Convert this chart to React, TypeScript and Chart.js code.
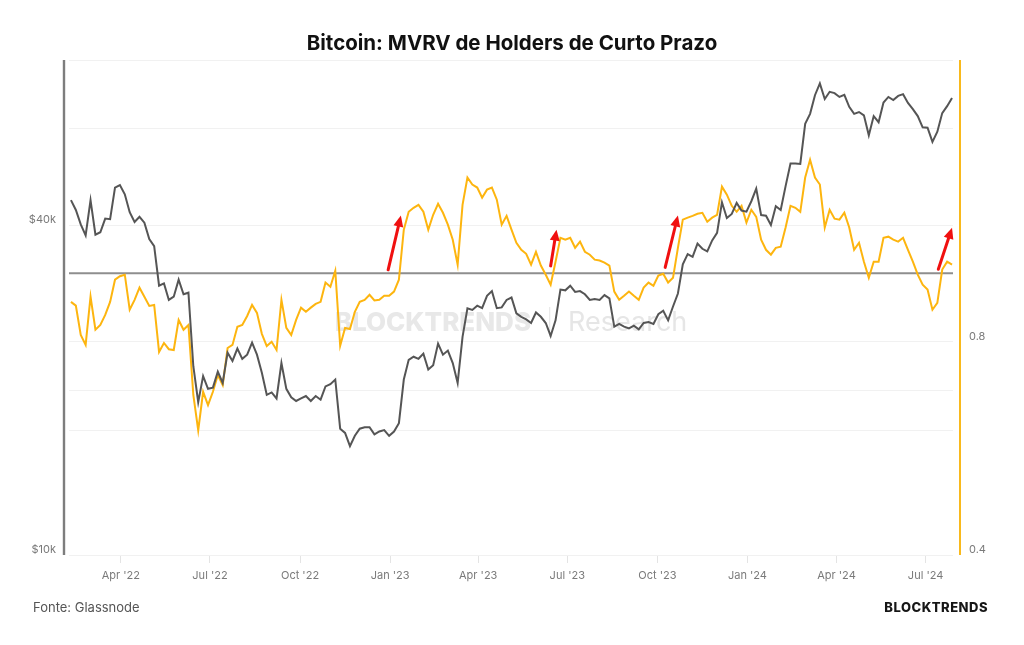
import React, { useEffect, useRef } from 'react';
import { Chart, registerables } from 'chart.js';

Chart.register(...registerables);

// Series sampled every 5 days, starting on SERIES_START
const SERIES_START = '2022-02-09';
const SERIES_STEP_DAYS = 5;

// Bitcoin price (USD), left log axis
const BTC_PRICE_USD = [
  44400, 42600, 40100, 38300, 44400, 38400, 38800, 41100, 41000, 46800,
  47300, 45500, 42200, 40500, 41400, 40400, 37700, 36600, 31000, 31300,
  29200, 29600, 31800, 29900, 30100, 22100, 19000, 21200, 20100, 20200,
  21600, 20600, 23400, 22600, 23800, 22800, 23200, 24400, 23200, 21500,
  19600, 19800, 19300, 22400, 20100, 19400, 19100, 19300, 19500, 19100,
  19500, 19200, 20300, 20500, 20900, 17000, 16700, 15800, 16500, 17000,
  17100, 17100, 16600, 16800, 16900, 16500, 16800, 17400, 20900, 22700,
  23000, 22800, 23300, 21800, 22200, 24300, 23200, 23600, 22400, 20600,
  25000, 28200, 28000, 28500, 28200, 29700, 30300, 28200, 28300, 29200,
  29500, 27600, 27200, 26900, 26500, 27700, 27200, 26500, 25100, 26800,
  30500, 30400, 31000, 30200, 30300, 29900, 29200, 29300, 29200, 29800,
  29400, 26100, 26400, 26100, 25900, 26200, 25800, 26500, 26600, 26400,
  27500, 27900, 26800, 28400, 30000, 33900, 35400, 35000, 37000, 36200,
  35800, 37500, 38700, 44000, 41200, 41900, 43900, 42500, 42300, 44200,
  46600, 41700, 41600, 40000, 43300, 42600, 47100, 51800, 51800, 51700,
  61200, 63800, 69000, 72500, 67900, 70000, 69600, 68500, 69100, 65700,
  63800, 64300, 63400, 58300, 63200, 61600, 66900, 68500, 67600, 68800,
  69300, 66800, 65100, 63200, 60300, 60200, 56700, 59200, 64000, 65900,
  68200,
];

// Short-term holder MVRV, right log axis
const STH_MVRV = [
  0.911, 0.900, 0.818, 0.792, 0.927, 0.832, 0.845, 0.873, 0.911, 0.979,
  0.990, 0.995, 0.888, 0.917, 0.954, 0.926, 0.899, 0.902, 0.774, 0.797,
  0.781, 0.779, 0.859, 0.832, 0.845, 0.673, 0.600, 0.680, 0.651, 0.680,
  0.718, 0.695, 0.784, 0.792, 0.840, 0.845, 0.870, 0.902, 0.879, 0.821,
  0.789, 0.800, 0.779, 0.917, 0.837, 0.818, 0.859, 0.894, 0.882, 0.894,
  0.905, 0.911, 0.970, 0.957, 1.008, 0.790, 0.837, 0.834, 0.882, 0.911,
  0.917, 0.932, 0.915, 0.917, 0.929, 0.929, 0.942, 0.979, 1.152, 1.221,
  1.237, 1.249, 1.221, 1.152, 1.209, 1.253, 1.217, 1.171, 1.115, 1.028,
  1.249, 1.365, 1.334, 1.321, 1.278, 1.312, 1.321, 1.270, 1.171, 1.205,
  1.152, 1.104, 1.079, 1.065, 1.028, 1.072, 1.025, 0.995, 0.963, 1.038,
  1.122, 1.115, 1.122, 1.086, 1.108, 1.072, 1.062, 1.045, 1.042, 1.035,
  1.025, 0.942, 0.917, 0.929, 0.942, 0.929, 0.917, 0.954, 0.970, 0.960,
  0.992, 0.998, 0.970, 0.985, 1.086, 1.190, 1.198, 1.205, 1.213, 1.217,
  1.182, 1.198, 1.209, 1.325, 1.291, 1.245, 1.221, 1.245, 1.179, 1.229,
  1.201, 1.115, 1.079, 1.062, 1.086, 1.090, 1.160, 1.245, 1.237, 1.221,
  1.365, 1.446, 1.365, 1.334, 1.160, 1.229, 1.194, 1.190, 1.217, 1.160,
  1.079, 1.104, 1.038, 0.985, 1.038, 1.038, 1.122, 1.126, 1.115, 1.108,
  1.122, 1.079, 1.038, 0.995, 0.963, 0.948, 0.888, 0.908, 1.012, 1.038,
  1.028,
];

const X_RANGE = ['2022-02-07', '2024-07-29'];
const X_TICK_DATES = [
  '2022-04-01', '2022-07-01', '2022-10-01', '2023-01-01', '2023-04-01',
  '2023-07-01', '2023-10-01', '2024-01-01', '2024-04-01', '2024-07-01',
];
const X_TICK_LABELS = [
  "Apr '22", "Jul '22", "Oct '22", "Jan '23", "Apr '23",
  "Jul '23", "Oct '23", "Jan '24", "Apr '24", "Jul '24",
];

const PRICE_RANGE = [10000, 80000];
const PRICE_GRID = [10000, 20000, 40000, 60000, 80000];
const PRICE_LABELS: Record<number, string> = { 10000: '$10k', 40000: '$40k' };

const MVRV_RANGE = [0.4, 2.0];
const MVRV_GRID = [0.4, 0.6, 0.8, 1.6, 2.0];
const MVRV_LABELS: Record<number, string> = { 0.4: '0.4', 0.8: '0.8' };
const MVRV_BREAKEVEN = 1;

// Red arrows: [start date, start MVRV, tip date, tip MVRV]
const ARROWS: [string, number, string, number][] = [
  ['2022-12-30', 1.011, '2023-01-12', 1.206],
  ['2023-06-14', 1.024, '2023-06-20', 1.152],
  ['2023-10-09', 1.019, '2023-10-22', 1.206],
  ['2024-07-14', 1.013, '2024-07-28', 1.159],
];

const TITLE = 'Bitcoin: MVRV de Holders de Curto Prazo';
const SOURCE = 'Fonte: Glassnode';
const BRAND = 'BLOCKTRENDS';

const DAY_MS = 86400000;
const toDay = (iso: string) => Date.parse(iso) / DAY_MS;

const FONT = 'Inter, "Noto Sans", sans-serif';

export default function App() {
  const canvasRef = useRef<HTMLCanvasElement | null>(null);

  useEffect(() => {
    const canvas = canvasRef.current;
    if (!canvas) return;

    const start = toDay(SERIES_START);
    const pricePoints = BTC_PRICE_USD.map((v, i) => ({ x: start + i * SERIES_STEP_DAYS, y: v }));
    const mvrvPoints = STH_MVRV.map((v, i) => ({ x: start + i * SERIES_STEP_DAYS, y: v }));
    const xMin = toDay(X_RANGE[0]);
    const xMax = toDay(X_RANGE[1]);
    const tickDays = X_TICK_DATES.map(toDay);

    const watermark = {
      id: 'watermark',
      beforeDatasetsDraw(chart: any) {
        const { ctx, chartArea } = chart;
        const cx = (chartArea.left + chartArea.right) / 2;
        const cy = 323;
        const boldFont = `800 26px ${FONT}`;
        const lightFont = `400 27px ${FONT}`;
        ctx.save();
        ctx.textBaseline = 'middle';
        ctx.textAlign = 'left';
        ctx.font = boldFont;
        const wa = ctx.measureText(BRAND).width;
        ctx.font = lightFont;
        const wb = ctx.measureText('Research').width;
        const gap = 18;
        const total = wa + gap * 2 + 1 + wb;
        let x = cx - total / 2;
        ctx.fillStyle = '#e8e8e8';
        ctx.font = boldFont;
        ctx.fillText(BRAND, x, cy);
        x += wa + gap;
        ctx.fillRect(x, cy - 16, 1.2, 30);
        x += 1 + gap;
        ctx.fillStyle = '#e6e6e6';
        ctx.font = lightFont;
        ctx.fillText('Research', x, cy);
        ctx.restore();
      },
    };

    const axisLines = {
      id: 'axisLines',
      afterDraw(chart: any) {
        const { ctx, chartArea } = chart;
        ctx.save();
        ctx.lineWidth = 2.4;
        ctx.strokeStyle = '#7d7d7d';
        ctx.beginPath();
        ctx.moveTo(chartArea.left - 5, chartArea.top);
        ctx.lineTo(chartArea.left - 5, chartArea.bottom);
        ctx.stroke();
        ctx.lineWidth = 2;
        ctx.strokeStyle = '#f9b91c';
        ctx.beginPath();
        ctx.moveTo(chartArea.right + 7, chartArea.top);
        ctx.lineTo(chartArea.right + 7, chartArea.bottom);
        ctx.stroke();
        ctx.restore();
      },
    };

    const arrows = {
      id: 'arrows',
      afterDatasetsDraw(chart: any) {
        const { ctx } = chart;
        const xs = chart.scales.x;
        const ys = chart.scales.yMvrv;
        ctx.save();
        ctx.strokeStyle = '#f01010';
        ctx.fillStyle = '#f01010';
        ctx.lineWidth = 3;
        ctx.lineCap = 'round';
        for (const [d0, v0, d1, v1] of ARROWS) {
          const x0 = xs.getPixelForValue(toDay(d0));
          const y0 = ys.getPixelForValue(v0);
          const x1 = xs.getPixelForValue(toDay(d1));
          const y1 = ys.getPixelForValue(v1);
          const ang = Math.atan2(y1 - y0, x1 - x0);
          const headLen = 11;
          const headW = 5;
          const bx = x1 - headLen * Math.cos(ang);
          const by = y1 - headLen * Math.sin(ang);
          ctx.beginPath();
          ctx.moveTo(x0, y0);
          ctx.lineTo(bx, by);
          ctx.stroke();
          ctx.beginPath();
          ctx.moveTo(x1, y1);
          ctx.lineTo(bx + headW * Math.sin(ang), by - headW * Math.cos(ang));
          ctx.lineTo(bx - headW * Math.sin(ang), by + headW * Math.cos(ang));
          ctx.closePath();
          ctx.fill();
        }
        ctx.restore();
      },
    };

    const tickFont = { family: FONT, size: 11 };

    const chart = new Chart(canvas, {
      type: 'line',
      data: {
        datasets: [
          {
            label: 'Preço BTC',
            data: pricePoints,
            yAxisID: 'yPrice',
            borderColor: '#555555',
            borderWidth: 2,
            pointRadius: 0,
            tension: 0,
          },
          {
            label: 'MVRV STH',
            data: mvrvPoints,
            yAxisID: 'yMvrv',
            borderColor: '#fdb50f',
            borderWidth: 2,
            pointRadius: 0,
            tension: 0,
          },
          {
            label: 'MVRV = 1',
            data: [
              { x: xMin, y: MVRV_BREAKEVEN },
              { x: xMax, y: MVRV_BREAKEVEN },
            ],
            yAxisID: 'yMvrv',
            borderColor: '#8e8e8e',
            borderWidth: 2,
            pointRadius: 0,
          },
        ],
      },
      options: {
        animation: false,
        responsive: false,
        devicePixelRatio: 1,
        layout: { padding: { top: 60, left: 0, right: 0, bottom: 0 } },
        plugins: {
          legend: { display: false },
          tooltip: { enabled: false },
          title: { display: false },
        },
        scales: {
          x: {
            type: 'linear',
            min: xMin,
            max: xMax,
            afterBuildTicks: (s: any) => {
              s.ticks = tickDays.map((v) => ({ value: v }));
            },
            afterFit: (s: any) => {
              s.height = 90;
            },
            ticks: {
              autoSkip: false,
              maxRotation: 0,
              padding: 6,
              color: '#7a7a7a',
              font: tickFont,
              callback: (v: any) => {
                const i = tickDays.indexOf(Number(v));
                return i >= 0 ? X_TICK_LABELS[i] : '';
              },
            },
            grid: {
              drawOnChartArea: false,
              drawTicks: true,
              tickLength: 8,
              color: '#e4e4e4',
            },
            border: { display: false },
          },
          yPrice: {
            type: 'logarithmic',
            position: 'left',
            min: PRICE_RANGE[0],
            max: PRICE_RANGE[1],
            afterBuildTicks: (s: any) => {
              s.ticks = PRICE_GRID.map((v) => ({ value: v }));
            },
            afterFit: (s: any) => {
              s.width = 69;
            },
            ticks: {
              autoSkip: false,
              padding: 13,
              labelOffset: -5,
              color: '#7a7a7a',
              font: tickFont,
              callback: (v: any) => PRICE_LABELS[Number(v)] ?? '',
            },
            grid: { color: '#f1f1f1', drawTicks: false, lineWidth: 1 },
            border: { display: false },
          },
          yMvrv: {
            type: 'logarithmic',
            position: 'right',
            min: MVRV_RANGE[0],
            max: MVRV_RANGE[1],
            afterBuildTicks: (s: any) => {
              s.ticks = MVRV_GRID.map((v) => ({ value: v }));
            },
            afterFit: (s: any) => {
              s.width = 71;
            },
            ticks: {
              autoSkip: false,
              padding: 16,
              labelOffset: -5,
              color: '#7a7a7a',
              font: tickFont,
              callback: (v: any) => MVRV_LABELS[Number(v)] ?? '',
            },
            grid: { color: '#f1f1f1', drawTicks: false, lineWidth: 1 },
            border: { display: false },
          },
        },
      },
      plugins: [watermark, arrows, axisLines],
    } as any);

    return () => chart.destroy();
  }, []);

  return (
    <div
      style={{
        position: 'absolute',
        left: 0,
        top: 0,
        width: 1024,
        height: 645,
        background: '#ffffff',
        overflow: 'hidden',
        fontFamily: FONT,
      }}
    >
      <canvas
        ref={canvasRef}
        width={1024}
        height={645}
        style={{ position: 'absolute', left: 0, top: 0, width: 1024, height: 645 }}
      />
      <div
        style={{
          position: 'absolute',
          left: 0,
          top: 30,
          width: 1024,
          textAlign: 'center',
          fontSize: 20.5,
          lineHeight: '26px',
          fontWeight: 700,
          color: '#111111',
        }}
      >
        {TITLE}
      </div>
      <div
        style={{
          position: 'absolute',
          left: 33,
          top: 598,
          fontSize: 13,
          lineHeight: '18px',
          color: '#555555',
        }}
      >
        {SOURCE}
      </div>
      <div
        style={{
          position: 'absolute',
          right: 36,
          top: 598,
          fontSize: 13,
          lineHeight: '18px',
          fontWeight: 800,
          letterSpacing: 0.5,
          color: '#161616',
        }}
      >
        {BRAND}
      </div>
    </div>
  );
}
